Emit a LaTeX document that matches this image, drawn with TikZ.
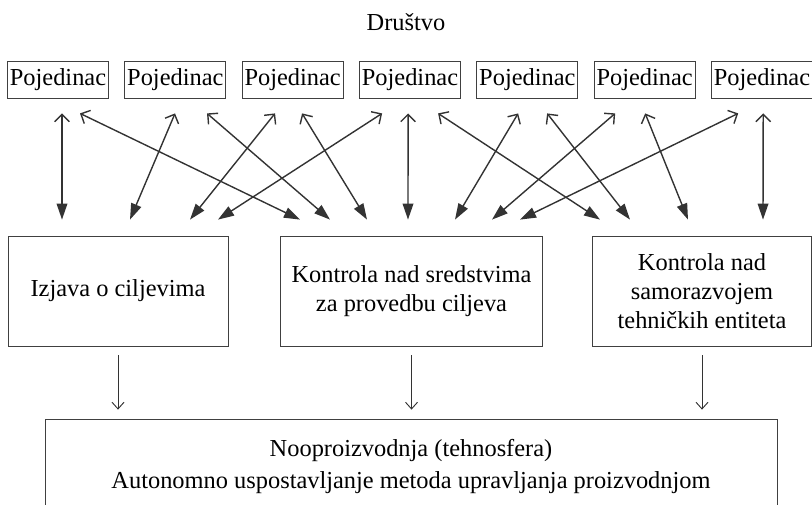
\documentclass[tikz,border=0pt]{standalone}
\usepackage{fontspec}
\setmainfont{Liberation Serif}
\usetikzlibrary{positioning, arrows.meta, calc}

\begin{document}
\begin{tikzpicture}
  [x=0.75pt, y=-0.75pt, font=\fontsize{18.3}{22}\selectfont,
   box/.style={draw=black!75, line width=0.6pt, align=center, inner sep=3pt},
   ind/.style={box, inner xsep=1.5pt, minimum width=75.75pt, minimum height=27.75pt},
   link/.style={{Straight Barb[length=5.5pt,width=11pt]}-{Triangle[length=12pt,width=8pt]}, draw=black!80, line width=1.05pt},
   down/.style={-{Straight Barb[length=5pt,width=9pt]}, draw=black!80, line width=0.7pt, shorten <=6.75pt, shorten >=6.75pt}]
   \useasboundingbox (0,0) rectangle (812,504);
   \node (drustvo) at (406,22) {Društvo};
   \node[ind] (p1) at (58,79.5) {Pojedinac};
   \begin{scope}[on grid, node distance=88pt]
   \node[ind] (p2) [right=of p1] {Pojedinac};
   \node[ind] (p3) [right=of p2] {Pojedinac};
   \node[ind] (p4) [right=of p3] {Pojedinac};
   \node[ind] (p5) [right=of p4] {Pojedinac};
   \node[ind] (p6) [right=of p5] {Pojedinac};
   \node[ind] (p7) [right=of p6] {Pojedinac};
   \end{scope}
   \node[box, minimum width=165pt, minimum height=82.5pt] (cilj) at (118,291) {Izjava o ciljevima};
   \node[box, minimum width=197pt, minimum height=82.5pt] (sred) at (411.5,291) {Kontrola nad sredstvima\\za provedbu ciljeva};
   \node[box, minimum width=164pt, minimum height=82.5pt] (razv) at (702,291) {Kontrola nad\\samorazvojem\\tehničkih entiteta};
   \node[box, minimum width=549pt, minimum height=71.25pt] (noo) at (411,466.5) {Nooproizvodnja (tehnosfera)\\[2pt]Autonomno uspostavljanje metoda upravljanja proizvodnjom};

   \draw[link] ($(p1.south)+(4,15)$) -- ($(cilj.north)+(-56,-16)$);
   \draw[link] ($(p1.south)+(22,15)$) -- ($(sred.north)+(-111.5,-16)$);
   \draw[link] ($(p2.south)+(-0.3,15)$) -- ($(cilj.north)+(12,-16)$);
   \draw[link] ($(p2.south)+(31.7,15)$) -- ($(sred.north)+(-81.5,-16)$);
   \draw[link] ($(p3.south)+(-17.6,15)$) -- ($(cilj.north)+(72,-16)$);
   \draw[link] ($(p3.south)+(9.4,15)$) -- ($(sred.north)+(-44.5,-16)$);
   \draw[link] ($(p4.south)+(-27.9,15)$) -- ($(cilj.north)+(100,-16)$);
   \draw[link] ($(p4.south)+(-1.9,15)$) -- ($(sred.north)+(-3.5,-16)$);
   \draw[link] ($(p4.south)+(28.1,15)$) -- ($(razv.north)+(-102,-16)$);
   \draw[link] ($(p5.south)+(-9.2,15)$) -- ($(sred.north)+(43.5,-16)$);
   \draw[link] ($(p5.south)+(19.8,15)$) -- ($(razv.north)+(-72,-16)$);
   \draw[link] ($(p6.south)+(-29.5,15)$) -- ($(sred.north)+(80.5,-16)$);
   \draw[link] ($(p6.south)+(0.5,15)$) -- ($(razv.north)+(-14,-16)$);
   \draw[link] ($(p7.south)+(-23.8,15)$) -- ($(sred.north)+(108.5,-16)$);
   \draw[link] ($(p7.south)+(1.2,15)$) -- ($(razv.north)+(61,-16)$);

   \draw[down] (cilj.south) -- (cilj.south |- noo.north);
   \draw[down] (sred.south) -- (sred.south |- noo.north);
   \draw[down] (razv.south) -- (razv.south |- noo.north);
\end{tikzpicture}
\end{document}
